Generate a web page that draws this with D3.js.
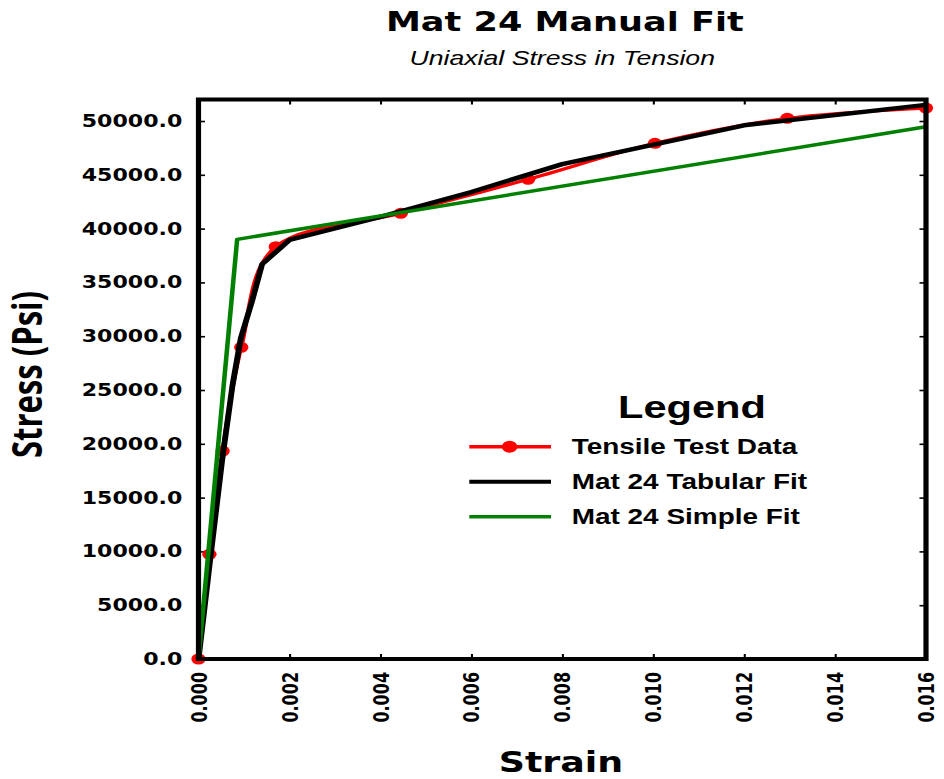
<!DOCTYPE html>
<html>
<head>
<meta charset="utf-8">
<script src="https://cdn.jsdelivr.net/npm/d3@7"></script>
<style>
  body { margin: 0; background: #fff; }
  svg { display: block; }
</style>
</head>
<body>
<svg class="chart"></svg>
<script>
// tensile test points (red)
var testStrain = [0, 0.00024, 0.00053, 0.00094, 0.0017, 0.00445, 0.00725, 0.01004, 0.01295, 0.016];
var testStress = [0, 9730, 19330, 28970, 38320, 41420, 44580, 47930, 50250, 51200];

// tabular fit (black)
var tabStrain = [0, 0.00025, 0.00052, 0.00075, 0.00093, 0.00118, 0.0014, 0.0020, 0.004, 0.006, 0.008, 0.012, 0.016];
var tabStress = [0, 9000, 18500, 25500, 29800, 33300, 36700, 38950, 41100, 43400, 46000, 49600, 51500];

// simple bilinear fit (green)
var simpleStrain = [0, 0.00085, 0.016];
var simpleStress = [0, 39000, 49470];

var xTicks = [0, 0.002, 0.004, 0.006, 0.008, 0.010, 0.012, 0.014, 0.016];
var yTicks = [0, 5000, 10000, 15000, 20000, 25000, 30000, 35000, 40000, 45000, 50000];

var legendLabels = ["Tensile Test Data", "Mat 24 Tabular Fit", "Mat 24 Simple Fit"];
var legendColors = ["#ff0000", "#000000", "#008000"];

function zip(xs, ys) {
    return xs.map(function(v, i) { return {strain: v, stress: ys[i]}; });
}

var width = 944, height = 779;
var SX = 1.3; // the original picture is stretched sideways

var svg = d3.select(".chart")
    .attr("width", width)
    .attr("height", height);

var g = svg.append("g").attr("transform", "scale(" + SX + ",1)");

var x = d3.scaleLinear()
    .domain([0, 0.016])
    .range([198.5 / SX, 926 / SX]);
var y = d3.scaleLinear()
    .domain([0, 52000])
    .range([659, 99.5]);

var plotL = x.range()[0], plotR = x.range()[1];
var plotT = y.range()[1], plotB = y.range()[0];
var plotCx = (plotL + plotR) / 2;

// titles
g.append("text")
    .attr("x", plotCx + 2).attr("y", 31)
    .attr("text-anchor", "middle")
    .style("font-family", "DejaVu Sans")
    .style("font-weight", "bold")
    .style("font-size", "27px")
    .text("Mat 24 Manual Fit");

g.append("text")
    .attr("x", plotCx).attr("y", 65)
    .attr("text-anchor", "middle")
    .style("font-family", "Liberation Sans")
    .style("font-style", "italic")
    .style("font-size", "20.5px")
    .text("Uniaxial Stress in Tension");

// axes
function styleTicks(sel) {
    sel.select(".domain").remove();
    sel.selectAll(".tick line").attr("stroke", "#000").attr("stroke-width", 1.6);
}

g.append("g")
    .attr("transform", "translate(0," + plotB + ")")
    .call(d3.axisBottom(x).tickValues(xTicks).tickSize(-5).tickFormat(d3.format(".3f")))
    .call(styleTicks)
    .call(function(a) {
        a.selectAll(".tick text")
            .attr("transform", "rotate(-90)")
            .attr("x", -13)
            .attr("y", 0)
            .attr("dy", "0.36em")
            .attr("text-anchor", "end")
            .attr("fill", "#000")
            .style("font-family", "DejaVu Sans")
            .style("font-weight", "bold")
            .style("font-size", "16px");
    });

g.append("g")
    .attr("transform", "translate(0," + plotT + ")")
    .call(d3.axisTop(x).tickValues(xTicks).tickSize(-5).tickFormat(""))
    .call(styleTicks);

g.append("g")
    .attr("transform", "translate(" + plotL + ",0)")
    .call(d3.axisLeft(y).tickValues(yTicks).tickSize(-5).tickPadding(12.5).tickFormat(d3.format(".1f")))
    .call(styleTicks)
    .call(function(a) {
        a.selectAll(".tick text")
            .attr("fill", "#000")
            .style("font-family", "DejaVu Sans")
            .style("font-weight", "bold")
            .style("font-size", "17px");
    });

g.append("g")
    .attr("transform", "translate(" + plotR + ",0)")
    .call(d3.axisRight(y).tickValues(yTicks).tickSize(-5).tickFormat(""))
    .call(styleTicks);

// axis titles
g.append("text")
    .attr("x", 431.5).attr("y", 772)
    .attr("text-anchor", "middle")
    .style("font-family", "DejaVu Sans")
    .style("font-weight", "bold")
    .style("font-size", "28px")
    .text("Strain");

g.append("text")
    .attr("transform", "translate(" + (41.7 / SX) + ",374.5) rotate(-90)")
    .attr("text-anchor", "middle")
    .style("font-family", "Open Sans")
    .style("font-weight", "bold")
    .style("font-size", "31px")
    .text("Stress (Psi)");

// lines
var line = d3.line()
    .x(function(d) { return x(d.strain); })
    .y(function(d) { return y(d.stress); });

var testData = zip(testStrain, testStress);

g.append("path")
    .datum(testData)
    .attr("fill", "none")
    .attr("stroke", legendColors[0])
    .attr("stroke-width", 3.2)
    .attr("stroke-linejoin", "round")
    .attr("d", line.curve(d3.curveCatmullRom.alpha(0.5)));

g.selectAll(".dot")
    .data(testData)
    .enter().append("circle")
    .attr("class", "dot")
    .attr("r", 5.5)
    .attr("cx", function(d) { return x(d.strain); })
    .attr("cy", function(d) { return y(d.stress); })
    .attr("fill", legendColors[0]);

line.curve(d3.curveLinear);

g.append("path")
    .datum(zip(tabStrain, tabStress))
    .attr("fill", "none")
    .attr("stroke", legendColors[1])
    .attr("stroke-width", 4.5)
    .attr("stroke-linejoin", "round")
    .attr("d", line);

g.append("path")
    .datum(zip(simpleStrain, simpleStress))
    .attr("fill", "none")
    .attr("stroke", legendColors[2])
    .attr("stroke-width", 3.5)
    .attr("stroke-linejoin", "round")
    .attr("d", line);

// frame
g.append("rect")
    .attr("x", plotL).attr("y", plotT)
    .attr("width", plotR - plotL).attr("height", plotB - plotT)
    .attr("fill", "none")
    .attr("stroke", "#000")
    .attr("stroke-width", 4);

// legend
var legend = g.append("g").attr("transform", "translate(" + (469.3 / SX) + ",0)");

legend.append("text")
    .attr("x", (692 - 469.3) / SX).attr("y", 418)
    .attr("text-anchor", "middle")
    .style("font-family", "Liberation Sans")
    .style("font-weight", "bold")
    .style("font-size", "32px")
    .text("Legend");

var rows = legend.selectAll(".row")
    .data(legendLabels)
    .enter().append("g")
    .attr("class", "row")
    .attr("transform", function(d, i) { return "translate(0," + (446.7 + i * 35) + ")"; });

rows.append("line")
    .attr("x1", 0).attr("x2", (551 - 469.3) / SX)
    .attr("stroke", function(d, i) { return legendColors[i]; })
    .attr("stroke-width", function(d, i) { return i === 1 ? 4 : 3.5; });

rows.filter(function(d, i) { return i === 0; })
    .append("circle")
    .attr("cx", (520 - 469.3) / SX - 8)
    .attr("r", 6)
    .attr("fill", legendColors[0]);

rows.append("text")
    .attr("x", (571.7 - 469.3) / SX)
    .attr("y", 7.5)
    .style("font-family", "Liberation Sans")
    .style("font-weight", "bold")
    .style("font-size", "21.5px")
    .text(function(d) { return d; });
</script>
</body>
</html>
